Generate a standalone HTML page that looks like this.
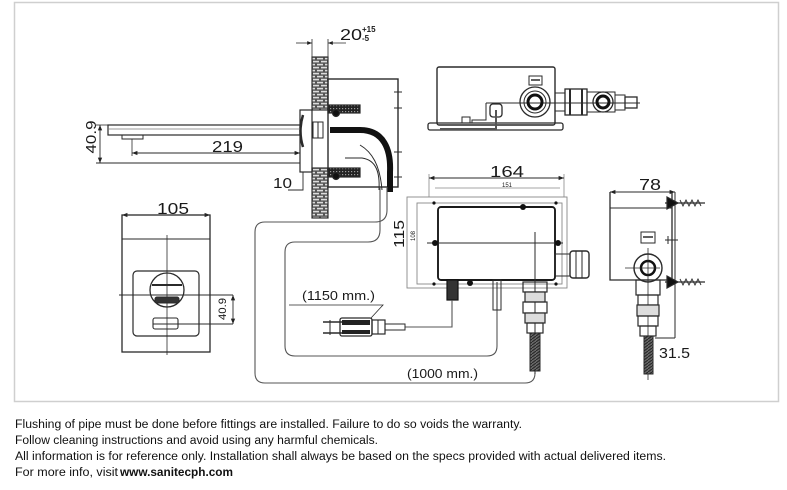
<!DOCTYPE html>
<html><head><meta charset="utf-8">
<style>
html,body{margin:0;padding:0;background:#fff;}
body{width:787px;height:490px;overflow:hidden;}
svg{display:block;}
text{font-family:"Liberation Sans",sans-serif;}
</style></head>
<body>
<svg width="787" height="490" viewBox="0 0 787 490" xmlns="http://www.w3.org/2000/svg">
<defs>
  <pattern id="brick" width="8" height="6" patternUnits="userSpaceOnUse">
    <rect width="8" height="6" fill="#555"/>
    <rect x="1" y="0.8" width="6" height="1.6" fill="#ddd"/>
    <rect x="-3" y="3.8" width="6" height="1.6" fill="#ddd"/>
    <rect x="5" y="3.8" width="6" height="1.6" fill="#ddd"/>
  </pattern>
  <pattern id="hatch" width="3" height="3" patternUnits="userSpaceOnUse">
    <rect width="3" height="3" fill="#222"/>
    <rect x="0" y="0" width="1.2" height="1.2" fill="#999"/>
  </pattern>
  <pattern id="braid" width="4" height="3" patternUnits="userSpaceOnUse">
    <rect width="4" height="3" fill="#666"/>
    <path d="M0 3 L4 0" stroke="#222" stroke-width="1"/>
  </pattern>
  <marker id="ar" viewBox="0 0 10 10" refX="10" refY="5" markerWidth="6" markerHeight="6" orient="auto-start-reverse">
    <path d="M0 1 L10 5 L0 9 z" fill="#222"/>
  </marker>
</defs>

<!-- frame -->
<rect x="14.5" y="2.5" width="764" height="399" fill="none" stroke="#cfcfcf" stroke-width="1.5"/>

<g stroke="#2a2a2a" fill="none" stroke-width="1.2">

<!-- ===== top-left side view ===== -->
<!-- 20 dim -->
<line x1="312" y1="39" x2="312" y2="58" stroke-width="0.8"/>
<line x1="328" y1="39" x2="328" y2="58" stroke-width="0.8"/>
<line x1="296" y1="43" x2="312" y2="43" stroke-width="0.8" marker-end="url(#ar)"/>
<line x1="346" y1="43" x2="328" y2="43" stroke-width="0.8" marker-end="url(#ar)"/>
<!-- walls -->
<rect x="312" y="57" width="16" height="53" fill="url(#brick)" stroke="#333"/>
<rect x="312" y="168" width="16" height="50" fill="url(#brick)" stroke="#333"/>
<!-- housing -->
<rect x="328" y="79" width="70" height="108" stroke-width="1.4"/>
<g stroke-width="1">
<line x1="394" y1="92" x2="402" y2="92"/><line x1="394" y1="108" x2="402" y2="108"/>
<line x1="394" y1="152" x2="402" y2="152"/><line x1="394" y1="177" x2="402" y2="177"/>
</g>
<!-- dark pipes -->
<rect x="328" y="105" width="32" height="8" fill="url(#hatch)"/>
<rect x="328" y="168" width="32" height="9" fill="url(#hatch)"/>
<circle cx="336" cy="113" r="3.5" fill="#111"/>
<circle cx="336" cy="176" r="3.5" fill="#111"/>
<!-- flange -->
<rect x="300" y="110" width="12" height="62"/>
<path d="M303 115 Q298 131 303 147" stroke-width="2.5"/>
<rect x="313" y="122" width="10" height="16" stroke-width="1"/>
<line x1="318" y1="122" x2="318" y2="138" stroke-width="1"/>
<!-- spout -->
<rect x="108" y="125" width="192" height="10"/>
<line x1="108" y1="129" x2="300" y2="129" stroke-width="0.7" stroke="#777"/>
<path d="M122 135 L122 139 L143 139 L143 135" stroke-width="1"/>
<!-- hoses -->
<path d="M330 130 L360 130 C384 130 391 150 390 172 L390 192" stroke="#111" stroke-width="6"/>
<path d="M360 145 C372 152 380 165 382 190" stroke-width="1"/>
<path d="M345 158 L362 158 C376 160 380 172 379 190" stroke-width="1"/>
<!-- 219 dim -->
<line x1="132" y1="139" x2="132" y2="156" stroke-width="0.8"/>
<line x1="132" y1="153" x2="300" y2="153" stroke-width="0.9" marker-start="url(#ar)" marker-end="url(#ar)"/>
<!-- 40.9 dim -->
<line x1="96" y1="125" x2="108" y2="125" stroke-width="0.8"/>
<line x1="96" y1="163" x2="300" y2="163" stroke-width="0.9"/>
<line x1="100" y1="125" x2="100" y2="163" stroke-width="0.9" marker-start="url(#ar)" marker-end="url(#ar)"/>
<!-- 10 dim -->
<path d="M288 190 L303 190 L303 172" stroke-width="0.9"/>

<!-- ===== cable loops ===== -->
<path d="M387 187 L387 210 Q387 222 375 222 L265 222 Q255 222 255 232 L255 373 Q255 383 265 383 L525 383 Q535 383 535 373" stroke="#555" stroke-width="1.1"/>
<path d="M380 187 L380 230 Q380 242 368 242 L295 242 Q285 242 285 252 L285 346 Q285 356 295 356 L487 356 Q497 356 497 346 L497 310" stroke="#555" stroke-width="1.1"/>

<!-- ===== top-right top view ===== -->
<rect x="437" y="67" width="118" height="58" rx="2" stroke-width="1.4"/>
<rect x="428" y="123" width="135" height="7" rx="2" stroke-width="1.3"/>
<path d="M486 103 L640 103" stroke-width="0.9"/>
<path d="M486 103 L486 120 L472 120 L472 123" stroke-width="1"/>
<path d="M462 123 L462 117 L470 117 L470 123" stroke-width="1"/>
<rect x="490" y="104" width="12" height="13" rx="3" stroke-width="1.3"/>
<path d="M496 110 L496 129 L440 129" stroke-width="2" stroke="#555"/>
<circle cx="535" cy="102" r="15" stroke-width="1.3"/>
<circle cx="535" cy="102" r="11" stroke-width="1"/>
<circle cx="535" cy="102" r="7" stroke="#111" stroke-width="3"/>
<rect x="529" y="76" width="13" height="9" stroke-width="1"/>
<line x1="531" y1="80" x2="540" y2="80" stroke-width="1.5"/>
<rect x="555" y="93" width="10" height="18" stroke-width="1"/>
<rect x="565" y="89" width="22" height="26" stroke-width="1.3"/>
<line x1="570" y1="89" x2="570" y2="115" stroke-width="2"/>
<line x1="582" y1="89" x2="582" y2="115" stroke-width="2"/>
<rect x="587" y="92" width="28" height="20" stroke-width="1"/>
<circle cx="603" cy="102" r="10" stroke-width="1.3"/>
<circle cx="603" cy="102" r="6" stroke="#111" stroke-width="3"/>
<rect x="615" y="95" width="10" height="15" stroke-width="1"/>
<rect x="625" y="97" width="12" height="11" stroke-width="1.3"/>

<!-- ===== control box ===== -->
<rect x="407" y="197" width="160" height="91" stroke="#888" stroke-width="0.9"/>
<rect x="417" y="203" width="145" height="81" stroke="#888" stroke-width="0.9"/>
<rect x="438" y="207" width="117" height="73" rx="3" stroke="#1a1a1a" stroke-width="1.9"/>
<line x1="429" y1="174" x2="429" y2="197" stroke="#888" stroke-width="0.8"/>
<line x1="564" y1="174" x2="564" y2="197" stroke="#888" stroke-width="0.8"/>
<line x1="429" y1="178" x2="564" y2="178" stroke-width="0.9" marker-start="url(#ar)" marker-end="url(#ar)"/>
<line x1="435" y1="188" x2="560" y2="188" stroke="#888" stroke-width="0.8"/>
<line x1="427" y1="243" x2="563" y2="243" stroke-width="1"/>
<line x1="535" y1="232" x2="535" y2="374" stroke-width="1"/>
<circle cx="435" cy="243" r="3" fill="#111" stroke="none"/>
<circle cx="558" cy="243" r="3" fill="#111" stroke="none"/>
<circle cx="523" cy="207" r="3" fill="#111" stroke="none"/>
<circle cx="470" cy="283" r="3" fill="#111" stroke="none"/>
<circle cx="434" cy="203" r="1.6" fill="#111" stroke="none"/>
<circle cx="556" cy="203" r="1.6" fill="#111" stroke="none"/>
<circle cx="434" cy="284" r="1.6" fill="#111" stroke="none"/>
<circle cx="556" cy="284" r="1.6" fill="#111" stroke="none"/>
<!-- right fitting -->
<rect x="555" y="254" width="15" height="22" stroke-width="1"/>
<rect x="570" y="251" width="19" height="27" rx="3" stroke-width="1.4"/>
<line x1="576" y1="251" x2="576" y2="278" stroke-width="1"/>
<line x1="582" y1="251" x2="582" y2="278" stroke-width="1"/>
<!-- bottom connectors -->
<rect x="447" y="280" width="11" height="20" fill="#333" stroke="#111"/>
<path d="M452 300 L452 327 L405 327" stroke="#555" stroke-width="1.1"/>
<rect x="493" y="280" width="8" height="30" stroke-width="1"/>
<line x1="497" y1="282" x2="497" y2="310" stroke-width="1"/>
<!-- braided hose -->
<rect x="523" y="282" width="24" height="10" stroke-width="1.2"/>
<rect x="525" y="292" width="20" height="10" stroke-width="1.2" fill="#ddd"/>
<rect x="523" y="302" width="24" height="11" stroke-width="1.2"/>
<rect x="525" y="313" width="20" height="10" stroke-width="1.2" fill="#ddd"/>
<rect x="527" y="323" width="16" height="10" stroke-width="1.2"/>
<rect x="530" y="333" width="10" height="38" fill="url(#braid)" stroke-width="1"/>
<!-- plug -->
<line x1="323" y1="322" x2="342" y2="322" stroke-width="1.4"/>
<line x1="323" y1="333" x2="342" y2="333" stroke-width="1.4"/>
<line x1="330" y1="320" x2="330" y2="335" stroke-width="1"/>
<rect x="340" y="318" width="32" height="18" rx="2" stroke-width="1.3"/>
<rect x="342" y="320" width="28" height="5" fill="#222" stroke="none"/>
<rect x="342" y="330" width="28" height="4" fill="#222" stroke="none"/>
<rect x="372" y="320" width="13" height="14" stroke-width="1.2"/>
<line x1="378" y1="320" x2="378" y2="334" stroke-width="1"/>
<rect x="385" y="324" width="20" height="6" stroke-width="1"/>
<!-- 1150 leader -->
<path d="M289 305 L383 305 L371 318" stroke-width="0.8"/>

<!-- ===== side view right ===== -->
<line x1="610" y1="192" x2="675" y2="192" stroke-width="0.9" marker-start="url(#ar)" marker-end="url(#ar)"/>
<path d="M610 192 L610 280 L672 280 L672 192" stroke-width="1.3"/>
<line x1="610" y1="208" x2="672" y2="208" stroke-width="1"/>
<line x1="675" y1="192" x2="675" y2="338" stroke-width="1"/>
<path d="M665 203 L705 203" stroke-width="1.2"/>
<path d="M680 200 L683 206 L686 200 L689 206 L692 200 L695 206 L698 200 L701 206" stroke-width="0.9"/>
<path d="M667 197 L678 203 L667 209 z" fill="#111"/>
<path d="M665 282 L705 282" stroke-width="1.2"/>
<path d="M680 279 L683 285 L686 279 L689 285 L692 279 L695 285 L698 279 L701 285" stroke-width="0.9"/>
<path d="M667 276 L678 282 L667 288 z" fill="#111"/>
<path d="M665 240 L678 240 M668 236 L668 244" stroke-width="1"/>
<rect x="641" y="232" width="14" height="11" stroke-width="1"/>
<line x1="643" y1="237" x2="653" y2="237" stroke-width="1.5"/>
<circle cx="648" cy="268" r="14" stroke-width="1.4"/>
<circle cx="648" cy="268" r="7" stroke="#111" stroke-width="2.5"/>
<line x1="648" y1="248" x2="648" y2="380" stroke-width="0.8"/>
<line x1="625" y1="268" x2="660" y2="268" stroke-width="0.8"/>
<rect x="636" y="280" width="24" height="15" stroke-width="1.2"/>
<rect x="638" y="295" width="20" height="10" stroke-width="1.2"/>
<rect x="637" y="305" width="22" height="11" stroke-width="1.2" fill="#ddd"/>
<rect x="638" y="316" width="20" height="10" stroke-width="1.2"/>
<rect x="640" y="326" width="16" height="10" stroke-width="1.2"/>
<rect x="644" y="336" width="9" height="38" fill="url(#braid)" stroke-width="1"/>
<line x1="655" y1="338" x2="675" y2="338" stroke-width="0.9"/>

<!-- ===== front view left ===== -->
<line x1="122" y1="215" x2="210" y2="215" stroke-width="0.9" marker-start="url(#ar)" marker-end="url(#ar)"/>
<rect x="122" y="215" width="88" height="137" stroke-width="1.3"/>
<line x1="122" y1="239" x2="210" y2="239" stroke-width="1"/>
<rect x="133" y="271" width="66" height="65" rx="4" stroke-width="1.2"/>
<line x1="167" y1="235" x2="167" y2="355" stroke-width="0.8"/>
<line x1="119" y1="295" x2="233" y2="295" stroke-width="0.9"/>
<circle cx="167" cy="290" r="17" stroke-width="1.3"/>
<line x1="152" y1="285" x2="182" y2="285" stroke-width="2"/>
<rect x="155" y="297" width="24" height="6" rx="2" fill="#333" stroke-width="1"/>
<rect x="153" y="318" width="25" height="11" rx="2" stroke-width="1.1"/>
<line x1="153" y1="324" x2="233" y2="324" stroke-width="0.9"/>
<line x1="233" y1="295" x2="233" y2="324" stroke-width="0.9" marker-start="url(#ar)" marker-end="url(#ar)"/>
</g>

<!-- ===== dimension texts ===== -->
<g fill="#1a1a1a" font-size="16">
<text x="340" y="40" textLength="22" lengthAdjust="spacingAndGlyphs">20</text>
<text x="362" y="32" font-size="8" font-weight="bold">+15</text>
<text x="362" y="41" font-size="8" font-weight="bold">-5</text>
<text x="212" y="152" textLength="31" lengthAdjust="spacingAndGlyphs">219</text>
<text transform="translate(96,137) rotate(-90)" text-anchor="middle" x="0" y="0" font-size="15" textLength="33" lengthAdjust="spacingAndGlyphs">40.9</text>
<text x="273" y="188" textLength="19" lengthAdjust="spacingAndGlyphs" font-size="15">10</text>
<text x="490" y="177" textLength="34" lengthAdjust="spacingAndGlyphs">164</text>
<text x="502" y="187" font-size="6">151</text>
<text transform="translate(404,234) rotate(-90)" text-anchor="middle" x="0" y="0" font-size="15" textLength="28" lengthAdjust="spacingAndGlyphs">115</text>
<text transform="translate(415,236) rotate(-90)" text-anchor="middle" x="0" y="0" font-size="6">108</text>
<text x="639" y="190" textLength="22" lengthAdjust="spacingAndGlyphs">78</text>
<text x="659" y="358" textLength="31" lengthAdjust="spacingAndGlyphs" font-size="15">31.5</text>
<text x="157" y="214" textLength="32" lengthAdjust="spacingAndGlyphs">105</text>
<text transform="translate(226,309) rotate(-90)" text-anchor="middle" x="0" y="0" font-size="11" textLength="22" lengthAdjust="spacingAndGlyphs">40.9</text>
<text x="302" y="300" font-size="13" textLength="73" lengthAdjust="spacingAndGlyphs">(1150 mm.)</text>
<text x="407" y="378" font-size="13" textLength="71" lengthAdjust="spacingAndGlyphs">(1000 mm.)</text>
</g>

<!-- ===== footer text ===== -->
<g fill="#111" font-size="11.5">
<text x="15" y="428" textLength="507" lengthAdjust="spacingAndGlyphs">Flushing of pipe must be done before fittings are installed. Failure to do so voids the warranty.</text>
<text x="15" y="444" textLength="363" lengthAdjust="spacingAndGlyphs">Follow cleaning instructions and avoid using any harmful chemicals.</text>
<text x="15" y="460" textLength="651" lengthAdjust="spacingAndGlyphs">All information is for reference only. Installation shall always be based on the specs provided with actual delivered items.</text>
<text x="15" y="476" textLength="103" lengthAdjust="spacingAndGlyphs">For more info, visit</text>
<text x="120" y="476" font-weight="bold" textLength="113" lengthAdjust="spacingAndGlyphs">www.sanitecph.com</text>
</g>
</svg>
</body></html>
